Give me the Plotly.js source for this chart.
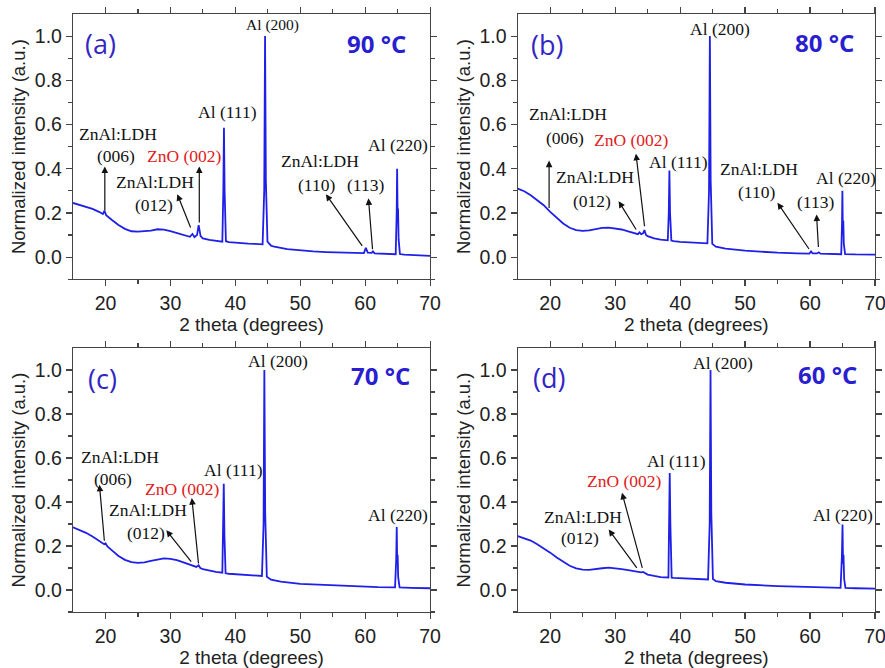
<!DOCTYPE html>
<html>
<head>
<meta charset="utf-8">
<script src="https://cdn.plot.ly/plotly-3.0.1.min.js"></script>
<style>html,body{margin:0;padding:0;background:#fff;}#chart{width:885px;height:668px;}</style>
</head>
<body>
<div id="chart"></div>
<script>
// ---- Data ----
const x_a = [15,16,17,18,19,19.6,19.85,20.1,21,22,23,24,25,26,27,28,29,30,31,32,33,33.4,33.7,34.1,34.35,34.65,35,36,37,38.0,38.15,38.25,38.35,38.55,39,40,41,42,43,44.2,44.45,44.58,44.7,44.95,45.5,46,48,50,52,54,56,58,59.8,60.1,60.4,61.0,61.2,61.45,62,64,64.7,64.85,64.92,65.0,65.06,65.15,65.35,66,68,70];
const y_a = [0.245,0.237,0.228,0.218,0.205,0.195,0.21,0.19,0.168,0.145,0.128,0.117,0.115,0.116,0.12,0.126,0.124,0.118,0.11,0.102,0.092,0.105,0.09,0.1,0.145,0.095,0.085,0.078,0.073,0.07,0.3,0.585,0.3,0.072,0.068,0.065,0.063,0.061,0.06,0.058,0.3,1.0,0.35,0.07,0.052,0.047,0.036,0.03,0.026,0.023,0.021,0.019,0.018,0.042,0.02,0.019,0.026,0.017,0.016,0.013,0.013,0.2,0.4,0.18,0.22,0.08,0.014,0.011,0.008,0.006];

const x_b = [15,16,17,18,19,20,21,22,23,24,25,26,27,28,29,30,31,32,33,33.5,33.75,34.0,34.3,34.5,34.75,35,36,37,38.1,38.25,38.35,38.45,38.65,39,40,41,42,43,44.2,44.45,44.58,44.7,44.95,45.5,47,50,52,55,58,59.9,60.15,60.4,61.1,61.35,61.6,63,64.8,64.92,64.98,65.05,65.12,65.2,65.4,67,70];
const y_b = [0.31,0.298,0.28,0.258,0.235,0.205,0.178,0.152,0.133,0.122,0.119,0.121,0.127,0.132,0.133,0.13,0.125,0.117,0.107,0.104,0.112,0.104,0.108,0.122,0.1,0.095,0.085,0.079,0.076,0.2,0.392,0.2,0.075,0.072,0.069,0.067,0.065,0.064,0.062,0.3,1.0,0.35,0.06,0.047,0.038,0.029,0.025,0.02,0.017,0.016,0.026,0.017,0.017,0.022,0.016,0.014,0.013,0.15,0.30,0.12,0.165,0.06,0.014,0.012,0.011];

const x_c = [15,16,17,18,19,19.8,20.0,20.3,21,22,23,24,25,26,27,28,29,30,31,32,33,34,34.35,34.6,35,36,37,38.0,38.12,38.22,38.32,38.5,39,40,41,42,43,44.1,44.35,44.47,44.6,44.85,45.5,47,50,52,55,58,60,62,64.6,64.78,64.86,64.93,65.0,65.08,65.3,67,70];
const y_c = [0.285,0.273,0.26,0.243,0.225,0.208,0.212,0.198,0.18,0.155,0.137,0.127,0.123,0.126,0.133,0.14,0.144,0.142,0.136,0.126,0.115,0.105,0.112,0.1,0.095,0.087,0.082,0.079,0.25,0.483,0.25,0.076,0.074,0.072,0.07,0.068,0.066,0.064,0.3,1.0,0.35,0.06,0.047,0.038,0.028,0.025,0.021,0.017,0.015,0.013,0.012,0.14,0.287,0.12,0.16,0.06,0.012,0.01,0.008];

const x_d = [15,16,17,18,19,20,21,22,23,24,25,26,27,28,29,30,31,32,33,34,34.3,34.6,35,36,37,38.2,38.3,38.4,38.5,38.7,39,40,41,42,43,44.3,44.55,44.68,44.8,45.05,45.5,47,50,52,55,58,60,62,64.7,64.9,65.0,65.08,65.15,65.25,65.45,67,70];
const y_d = [0.245,0.236,0.225,0.208,0.19,0.17,0.148,0.127,0.11,0.098,0.093,0.092,0.094,0.099,0.102,0.1,0.095,0.09,0.085,0.08,0.082,0.076,0.07,0.064,0.059,0.057,0.3,0.532,0.3,0.056,0.055,0.054,0.053,0.051,0.05,0.048,0.3,1.0,0.35,0.05,0.04,0.033,0.025,0.021,0.018,0.015,0.013,0.011,0.01,0.15,0.298,0.12,0.16,0.05,0.01,0.008,0.006];

const panelLabels = ['(a)','(b)','(c)','(d)'];
const tempLabels = ['90 °C','80 °C','70 °C','60 °C'];
const xTicks = [20,30,40,50,60,70];
const yTicks = [0.0,0.2,0.4,0.6,0.8,1.0];

// ---- Build ----
const series = [[x_a,y_a],[x_b,y_b],[x_c,y_c],[x_d,y_d]];
const traces = series.map((s,i)=>({
  x:s[0], y:s[1], type:'scatter', mode:'lines',
  line:{color:'#1f1fe8', width:1.8},
  xaxis: i===0?'x':'x'+(i+1), yaxis: i===0?'y':'y'+(i+1),
  showlegend:false, hoverinfo:'skip', cliponaxis:true
}));

const xDom = [[0.0825,0.486],[0.585,0.9887],[0.0825,0.486],[0.585,0.9887]];
const yDom = [[0.582,0.979],[0.582,0.979],[0.0838,0.479],[0.0838,0.479]];

const layout = {
  width:885, height:668,
  margin:{l:0,r:0,t:0,b:0},
  paper_bgcolor:'#fff', plot_bgcolor:'#fff',
  showlegend:false,
  annotations:[]
};
const tickFont = {family:'Liberation Sans, Arial, sans-serif', size:19.5, color:'#222'};
for(let i=0;i<4;i++){
  const xn = i===0?'xaxis':'xaxis'+(i+1);
  const yn = i===0?'yaxis':'yaxis'+(i+1);
  const yid = i===0?'y':'y'+(i+1);
  const xid = i===0?'x':'x'+(i+1);
  layout[xn] = {
    domain:xDom[i], anchor:yid, range:[15,70], tickvals:xTicks,
    ticks:'outside', ticklen:6, tickwidth:1.2, tickcolor:'#444',
    minor:{tickvals:[25,35,45,55,65], ticks:'outside', ticklen:3.5, tickcolor:'#444'},
    showline:true, linecolor:'#444', linewidth:1.2, mirror:'allticks',
    showgrid:false, zeroline:false, tickfont:tickFont, ticklabeloverflow:'allow',
    title:{text:'2 theta (degrees)', font:{family:'Liberation Sans, Arial, sans-serif', size:19, color:'#222'}, standoff:4}
  };
  layout[yn] = {
    domain:yDom[i], anchor:xid, range:[-0.1,1.1], tickvals:yTicks,
    ticktext:yTicks.map(v=>v.toFixed(1)),
    ticks:'outside', ticklen:6, tickwidth:1.2, tickcolor:'#444',
    minor:{tickvals:[-0.1,0.1,0.3,0.5,0.7,0.9], ticks:'outside', ticklen:3.5, tickcolor:'#444'},
    showline:true, linecolor:'#444', linewidth:1.2, mirror:'allticks',
    showgrid:false, zeroline:false, tickfont:tickFont, ticklabeloverflow:'allow',
    title:{text:'Normalized intensity (a.u.)', font:{family:'Liberation Sans, Arial, sans-serif', size:18.5, color:'#222'}, standoff:4}
  };
}

const serif = 'Liberation Serif, Times New Roman, serif';
function txt(i, x, y, text, opts={}){
  const xr = i===0?'x':'x'+(i+1), yr = i===0?'y':'y'+(i+1);
  layout.annotations.push(Object.assign({
    xref:xr, yref:yr, x:x, y:y, text:text, showarrow:false,
    xanchor:'center', yanchor:'middle',
    font:{family:serif, size:17.5, color:'#111'}
  }, opts));
}
function arr(i, tx, ty, hx, hy){
  const xr = i===0?'x':'x'+(i+1), yr = i===0?'y':'y'+(i+1);
  layout.annotations.push({
    xref:xr, yref:yr, axref:xr, ayref:yr,
    x:hx, y:hy, ax:tx, ay:ty, text:'', showarrow:true,
    arrowhead:2, arrowsize:1.1, arrowwidth:1.2, arrowcolor:'#111',
    standoff:0, startstandoff:0
  });
}
const red = {family:serif, size:17.5, color:'#e02020'};
const small = {family:serif, size:15.5, color:'#111'};
const lblFont = {family:'Open Sans, Lato, sans-serif', size:27, color:'#3326c4'};
const tmpFont = {family:'Open Sans, Lato, sans-serif', size:24, color:'#2a1fd0', weight:'bold'};

// panel a
txt(0,19.3,0.965,panelLabels[0],{font:lblFont});
txt(0,61.7,0.965,'<b>'+tempLabels[0]+'</b>',{font:tmpFont});
txt(0,45.8,1.05,'Al (200)',{font:small});
txt(0,38.8,0.657,'Al (111)');
txt(0,21.9,0.557,'ZnAl:LDH');
txt(0,21.65,0.459,'(006)');
txt(0,32.2,0.459,'ZnO (002)',{font:red});
txt(0,27.7,0.341,'ZnAl:LDH');
txt(0,27.4,0.237,'(012)');
txt(0,53.0,0.434,'ZnAl:LDH');
txt(0,52.5,0.326,'(110)');
txt(0,60.1,0.326,'(113)');
txt(0,65.1,0.507,'Al (220)');
arr(0,19.9,0.204,19.9,0.41);
arr(0,34.45,0.15,34.45,0.41);
arr(0,33.2,0.127,31.06,0.285);
arr(0,59.7,0.044,53.95,0.285);
arr(0,61.15,0.029,60.5,0.266);

// panel b
txt(1,19.5,0.962,panelLabels[1],{font:lblFont});
txt(1,62.3,0.97,'<b>'+tempLabels[1]+'</b>',{font:tmpFont});
txt(1,46.2,1.03,'Al (200)');
txt(1,39.8,0.431,'Al (111)');
txt(1,22.7,0.646,'ZnAl:LDH');
txt(1,22.3,0.54,'(006)');
txt(1,32.5,0.532,'ZnO (002)',{font:red});
txt(1,26.9,0.362,'ZnAl:LDH');
txt(1,26.5,0.256,'(012)');
txt(1,52.1,0.397,'ZnAl:LDH');
txt(1,51.8,0.294,'(110)');
txt(1,60.9,0.249,'(113)');
txt(1,65.5,0.359,'Al (220)');
arr(1,19.83,0.216,19.83,0.437);
arr(1,34.55,0.133,33.2,0.468);
arr(1,33.37,0.118,30.53,0.253);
arr(1,60.0,0.03,54.98,0.246);
arr(1,61.3,0.039,61.0,0.193);

// panel c
txt(2,19.5,0.96,panelLabels[2],{font:lblFont});
txt(2,62.3,0.976,'<b>'+tempLabels[2]+'</b>',{font:tmpFont});
txt(2,46.6,1.04,'Al (200)');
txt(2,39.65,0.544,'Al (111)');
txt(2,22.16,0.604,'ZnAl:LDH');
txt(2,21.1,0.503,'(006)');
txt(2,31.8,0.458,'ZnO (002)',{font:red});
txt(2,26.6,0.363,'ZnAl:LDH');
txt(2,26.3,0.258,'(012)');
txt(2,65.1,0.34,'Al (220)');
arr(2,19.85,0.217,19.07,0.479);
arr(2,34.35,0.114,33.3,0.418);
arr(2,33.38,0.122,29.37,0.272);

// panel d
txt(3,19.8,0.965,panelLabels[3],{font:lblFont});
txt(3,62.7,0.98,'<b>'+tempLabels[3]+'</b>',{font:tmpFont});
txt(3,46.6,1.03,'Al (200)');
txt(3,39.5,0.585,'Al (111)');
txt(3,31.4,0.497,'ZnO (002)',{font:red});
txt(3,25.1,0.331,'ZnAl:LDH');
txt(3,24.6,0.237,'(012)');
txt(3,65.0,0.343,'Al (220)');
arr(3,34.24,0.094,31.05,0.442);
arr(3,33.5,0.094,29.0,0.275);

Plotly.newPlot('chart', traces, layout, {staticPlot:true, displayModeBar:false});
</script>
</body>
</html>
